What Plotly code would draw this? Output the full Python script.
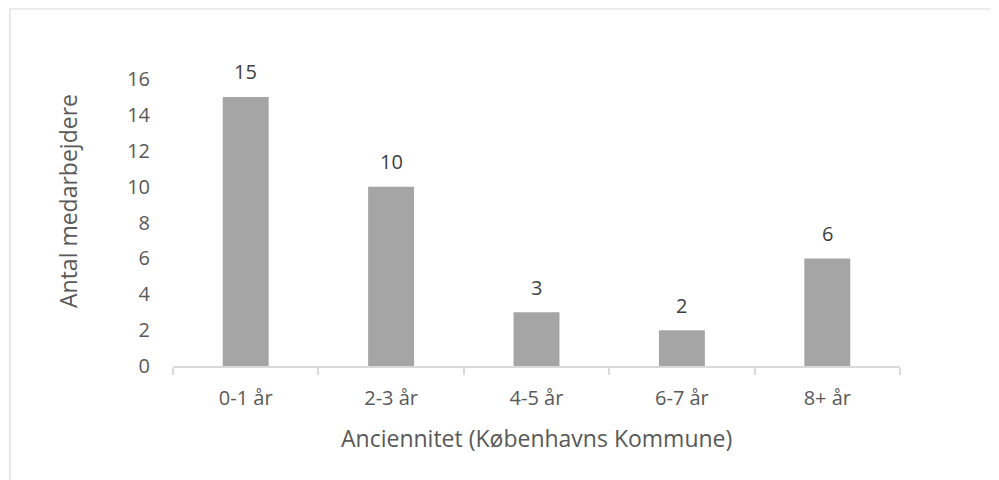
import plotly.graph_objects as go

categories = ["0-1 år", "2-3 år", "4-5 år", "6-7 år", "8+ år"]
values = [15, 10, 3, 2, 6]
y_ticks = [0, 2, 4, 6, 8, 10, 12, 14, 16]

x_title = "Anciennitet (Københavns Kommune)"
y_title = "Antal medarbejdere"

TEXT = "#595959"
FONT = "Open Sans"
OFF = 8  # page body margin
W, H = 999 - OFF, 480 - OFF
L, R, T, B = 173 - OFF, 99, 79 - OFF, 480 - 366
pw, ph = W - L - R, H - T - B

def px(x):
    return (x - OFF - L) / pw

def py(y):
    return (H - B - (y - OFF)) / ph

fig = go.Figure()
fig.add_trace(go.Bar(
    x=categories, y=values,
    marker=dict(color="#A5A5A5", line=dict(width=0)),
    hoverinfo="skip",
))

annotations = []
for c, v in zip(categories, values):
    annotations.append(dict(
        x=c, y=v, xref="x", yref="y", text=str(v), showarrow=False,
        yshift=25, font=dict(family=FONT, size=20, color="#404040"),
    ))
annotations.append(dict(
    x=px(536), y=py(438), xref="paper", yref="paper", text=x_title,
    showarrow=False, xanchor="center", yanchor="middle",
    font=dict(family=FONT, size=23, color=TEXT),
))
annotations.append(dict(
    x=px(68), y=py(201), xref="paper", yref="paper", text=y_title,
    showarrow=False, xanchor="center", yanchor="middle", textangle=-90,
    font=dict(family=FONT, size=23, color=TEXT),
))

border = "#D9D9D9"
shapes = [
    dict(type="rect", xref="paper", yref="paper",
         x0=px(10), x1=px(998.5), y0=py(9), y1=py(495),
         line=dict(color=border, width=1.2), fillcolor="rgba(0,0,0,0)"),
]

fig.update_layout(
    width=W, height=H,
    margin=dict(l=L, r=R, t=T, b=B, autoexpand=False),
    paper_bgcolor="white", plot_bgcolor="white",
    showlegend=False,
    bargap=0.684,
    annotations=annotations,
    shapes=shapes,
    font=dict(family=FONT, color=TEXT),
)
fig.update_xaxes(
    type="category",
    showline=True, linecolor=border, linewidth=1.5,
    ticks="outside", tickson="boundaries", ticklen=7, tickcolor=border, tickwidth=1.5,
    tickfont=dict(family=FONT, size=20, color=TEXT),
    ticklabelstandoff=13,
    showgrid=False, zeroline=False,
)
fig.update_yaxes(
    range=[0, 16], tickvals=y_ticks,
    showline=False, showgrid=False, zeroline=False,
    ticks="", tickfont=dict(family=FONT, size=20, color=TEXT),
    ticklabelstandoff=22,
)

fig.write_html("out.html")
